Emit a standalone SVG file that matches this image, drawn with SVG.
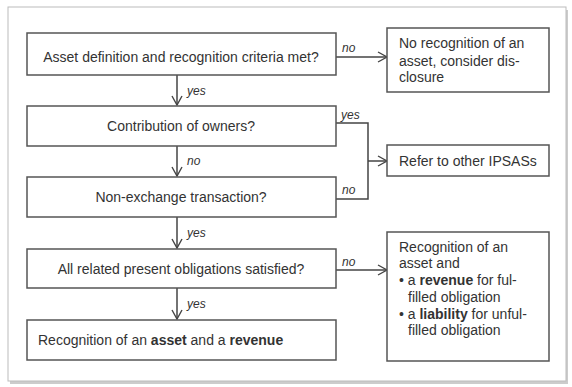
<svg xmlns="http://www.w3.org/2000/svg" width="572" height="387" viewBox="0 0 572 387">
<defs>
<style>
.box{fill:#fff;stroke:#555;stroke-width:1.5}
.t{font-family:"Liberation Sans",Arial,sans-serif;font-size:14px;fill:#333}
.c{text-anchor:middle}
.lbl{font-family:"Liberation Sans",Arial,sans-serif;font-size:12px;font-style:italic;fill:#333}
.ln{fill:none;stroke:#444;stroke-width:1.5}
</style>
<marker id="ah" markerWidth="12" markerHeight="12" refX="10" refY="6" orient="auto" markerUnits="userSpaceOnUse">
<path d="M1,1 L10,6 L1,11" fill="none" stroke="#444" stroke-width="1.4"/>
</marker>
</defs>
<rect width="572" height="387" fill="#fff"/>
<rect x="10" y="10" width="558" height="374" fill="#999" opacity="0.5"/>
<rect x="8" y="7" width="558" height="374" fill="#fff" stroke="#bbb" stroke-width="1"/>
<g id="connectors">
<line class="ln" x1="177" y1="75" x2="177" y2="105" marker-end="url(#ah)"/>
<line class="ln" x1="177" y1="146" x2="177" y2="176" marker-end="url(#ah)"/>
<line class="ln" x1="177" y1="217" x2="177" y2="248" marker-end="url(#ah)"/>
<line class="ln" x1="177" y1="288" x2="177" y2="319" marker-end="url(#ah)"/>
<line class="ln" x1="336" y1="57" x2="387" y2="57" marker-end="url(#ah)"/>
<polyline class="ln" points="336,123 368,123 368,199 336,199"/>
<line class="ln" x1="368" y1="161" x2="387" y2="161" marker-end="url(#ah)"/>
<line class="ln" x1="336" y1="270" x2="387" y2="270" marker-end="url(#ah)"/>
<text class="lbl" x="187" y="95">yes</text>
<text class="lbl" x="187" y="165">no</text>
<text class="lbl" x="187" y="237">yes</text>
<text class="lbl" x="187" y="308">yes</text>
<text class="lbl" x="342" y="52">no</text>
<text class="lbl" x="341" y="119">yes</text>
<text class="lbl" x="342" y="194">no</text>
<text class="lbl" x="342" y="266">no</text>
</g>
<g id="n1"><rect class="box" x="27" y="33" width="309" height="42"/><text class="t c" x="181" y="62">Asset definition and recognition criteria met?</text></g>
<g id="n2"><rect class="box" x="27" y="106" width="309" height="40"/><text class="t c" x="181" y="131">Contribution of owners?</text></g>
<g id="n3"><rect class="box" x="27" y="177" width="309" height="40"/><text class="t c" x="181" y="202">Non-exchange transaction?</text></g>
<g id="n4"><rect class="box" x="27" y="249" width="309" height="39"/><text class="t c" x="181" y="274">All related present obligations satisfied?</text></g>
<g id="n5"><rect class="box" x="27" y="320" width="309" height="40"/><text class="t" x="38" y="345">Recognition of an <tspan font-weight="bold">asset</tspan> and a <tspan font-weight="bold">revenue</tspan></text></g>
<g id="r1"><rect class="box" x="387" y="28" width="162" height="64"/>
<text class="t" x="399" y="48">No recognition of an</text>
<text class="t" x="399" y="66">asset, consider dis-</text>
<text class="t" x="399" y="82">closure</text></g>
<g id="r2"><rect class="box" x="387" y="145" width="162" height="31"/><text class="t" x="399" y="166">Refer to other IPSASs</text></g>
<g id="r3"><rect class="box" x="387" y="232" width="162" height="129"/>
<text class="t" x="399" y="252">Recognition of an</text>
<text class="t" x="399" y="268">asset and</text>
<text class="t" x="399" y="285">• a <tspan font-weight="bold">revenue</tspan> for ful-</text>
<text class="t" x="408" y="302">filled obligation</text>
<text class="t" x="399" y="319">• a <tspan font-weight="bold">liability</tspan> for unful-</text>
<text class="t" x="408" y="335">filled obligation</text></g>
</svg>
